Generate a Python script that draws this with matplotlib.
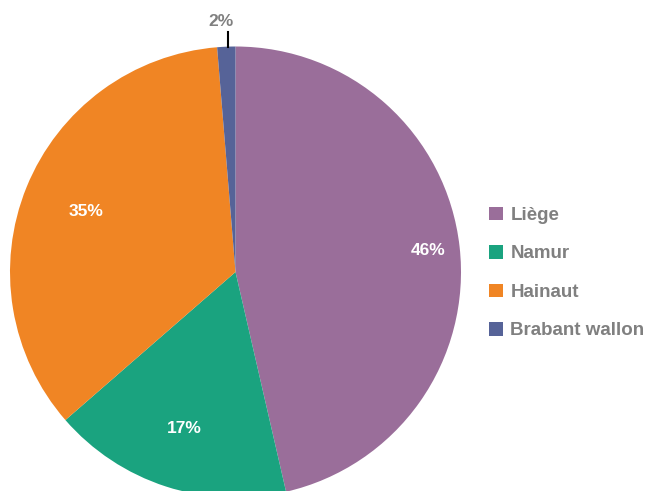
import numpy as np
import matplotlib.pyplot as plt

provinces = ['Liège', 'Namur', 'Hainaut', 'Brabant wallon']
shares = [46.4, 17.2, 35.1, 1.3]
share_labels = ['46%', '17%', '35%', '2%']
colors = ['#9a6e9a', '#1aa37f', '#f08524', '#566398']

W, H = 650, 491
fig = plt.figure(figsize=(W / 100, H / 100), dpi=100)

# pie centre and radius in pixels, measured on the reference
cx, cy, r = 235.5, 272, 225.5
ax = fig.add_axes([(cx - r) / W, (H - cy - r) / H, 2 * r / W, 2 * r / H])
wedges, _ = ax.pie(shares, colors=colors, startangle=90, counterclock=False,
                   wedgeprops=dict(linewidth=0))
ax.set_xlim(-1, 1)
ax.set_ylim(-1, 1)
ax.set_aspect('auto')

font = dict(family='Liberation Sans', weight='bold')
dists = [0.86, 0.73, 0.715]
for w, lab, d in zip(wedges[:3], share_labels[:3], dists):
    a = np.deg2rad((w.theta1 + w.theta2) / 2)
    ax.text(d * np.cos(a), d * np.sin(a), lab, ha='center', va='center',
            color='white', fontsize=12.5, **font)

w = wedges[3]
a = np.deg2rad((w.theta1 + w.theta2) / 2)
x0 = np.cos(a) + 0.007
ax.plot([x0, x0], [1.0, 1.065], color='black', lw=1.5, clip_on=False)
ax.text(x0 - 0.03, 1.11, share_labels[3], ha='center', va='center',
        color='#808080', fontsize=12.5, clip_on=False, **font)

fig.legend(wedges, provinces, loc='center left',
           bbox_to_anchor=(472 / W, (H - 273) / H), frameon=False,
           handlelength=0.75, handleheight=0.75, handletextpad=0.4,
           labelspacing=1.12, labelcolor='#808080',
           prop=dict(size=13.5, **font))

fig.savefig('out.png', dpi=100)
